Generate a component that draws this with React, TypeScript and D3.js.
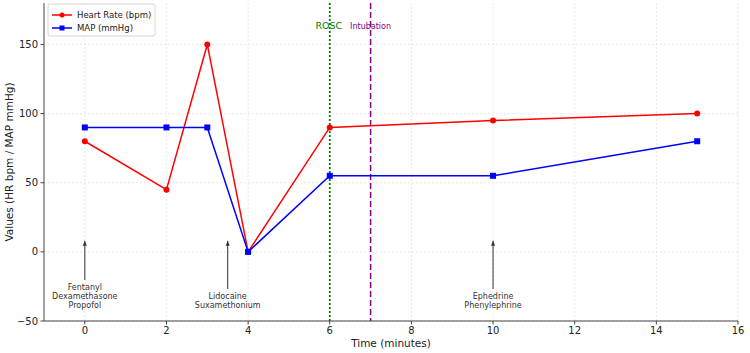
import React from "react";
import * as d3 from "d3";

const times = [0, 2, 3, 4, 6, 10, 15];
const heartRate = [80, 45, 150, 0, 90, 95, 100];
const map = [90, 90, 90, 0, 55, 55, 80];
const xTicks = [0, 2, 4, 6, 8, 10, 12, 14, 16];
const yTicks = [-50, 0, 50, 100, 150];
const annotations = [
  { x: 0, lines: ["Fentanyl", "Dexamethasone", "Propofol"] },
  { x: 3.5, lines: ["Lidocaine", "Suxamethonium"] },
  { x: 10, lines: ["Ephedrine", "Phenylephrine"] },
];
const events = [
  { x: 6, label: "ROSC" },
  { x: 7, label: "Intubation" },
];

const W = 750, H = 353;
const L = 44, R = 738, T = 3, B = 321;
const FONT = "DejaVu Sans, sans-serif";

export default function App() {
  const x = d3.scaleLinear().domain([-1, 16]).range([L, R]);
  const y = d3.scaleLinear().domain([-50, 180]).range([B, T]);
  const line = d3.line<[number, number]>().x(d => x(d[0])).y(d => y(d[1]));
  const hr = times.map((t, i) => [t, heartRate[i]] as [number, number]);
  const mp = times.map((t, i) => [t, map[i]] as [number, number]);

  return (
    <svg width={W} height={H} style={{ position: "absolute", left: 0, top: 0 }} fontFamily={FONT}>
      <defs>
        <marker id="arr" viewBox="0 0 10 10" refX="10" refY="5" markerWidth="5" markerHeight="5" orient="auto">
          <path d="M0,1 L10,5 L0,9 z" fill="#333" />
        </marker>
      </defs>
      <rect width={W} height={H} fill="white" />
      {/* grid */}
      {xTicks.map(t => (
        <line key={"gx" + t} x1={x(t)} x2={x(t)} y1={T} y2={B} stroke="#e2e2e2" strokeWidth={0.8} strokeDasharray="2,2" />
      ))}
      {yTicks.map(t => (
        <line key={"gy" + t} x1={L} x2={R} y1={y(t)} y2={y(t)} stroke="#e2e2e2" strokeWidth={0.8} strokeDasharray="2,2" />
      ))}
      {/* event lines */}
      <line x1={x(events[0].x)} x2={x(events[0].x)} y1={T} y2={B} stroke="green" strokeWidth={1.8} strokeDasharray="2,2" />
      <line x1={x(events[1].x)} x2={x(events[1].x)} y1={T} y2={B} stroke="purple" strokeWidth={1.5} strokeDasharray="6,3" />
      <text x={x(events[0].x) - 1} y={29} fill="green" fontSize={9.5} textAnchor="middle">{events[0].label}</text>
      <text x={x(events[1].x)} y={29} fill="purple" fontSize={8} textAnchor="middle">{events[1].label}</text>
      {/* series */}
      <path d={line(hr) || ""} fill="none" stroke="red" strokeWidth={1.5} />
      <path d={line(mp) || ""} fill="none" stroke="blue" strokeWidth={1.5} />
      {hr.map((d, i) => <circle key={"h" + i} cx={x(d[0])} cy={y(d[1])} r={3} fill="red" />)}
      {mp.map((d, i) => <rect key={"m" + i} x={x(d[0]) - 3} y={y(d[1]) - 3} width={6} height={6} fill="blue" />)}
      {/* annotations */}
      {annotations.map((a, i) => {
        const n = a.lines.length;
        const lh = 9;
        const lastY = 308;
        const firstY = lastY - (n - 1) * lh;
        return (
          <g key={"a" + i}>
            <line x1={x(a.x)} x2={x(a.x)} y1={firstY - 10} y2={y(8)} stroke="#333" strokeWidth={1} markerEnd="url(#arr)" />
            {a.lines.map((s, j) => (
              <text key={j} x={x(a.x)} y={firstY + j * lh} fontSize={8} fill="#333" textAnchor="middle">{s}</text>
            ))}
          </g>
        );
      })}
      {/* axes */}
      <line x1={L} x2={L} y1={T} y2={B} stroke="#444" strokeWidth={1} />
      <line x1={L} x2={R} y1={B} y2={B} stroke="#444" strokeWidth={1} />
      {xTicks.map(t => (
        <g key={"xt" + t}>
          <line x1={x(t)} x2={x(t)} y1={B} y2={B + 3.5} stroke="#444" />
          <text x={x(t)} y={B + 13} fontSize={10} textAnchor="middle" fill="#222">{t}</text>
        </g>
      ))}
      {yTicks.map(t => (
        <g key={"yt" + t}>
          <line x1={L - 3.5} x2={L} y1={y(t)} y2={y(t)} stroke="#444" />
          <text x={L - 6} y={y(t) + 3.5} fontSize={10} textAnchor="end" fill="#222">{t < 0 ? "\u2212" + Math.abs(t) : t}</text>
        </g>
      ))}
      <text x={(L + R) / 2} y={347} fontSize={10.5} textAnchor="middle" fill="#222">Time (minutes)</text>
      <text transform={`translate(13,${(T + B) / 2}) rotate(-90)`} fontSize={10.5} textAnchor="middle" fill="#222">Values (HR bpm / MAP mmHg)</text>
      {/* legend */}
      <g>
        <rect x={48} y={4} width={107} height={32} rx={2} fill="white" stroke="#ccc" strokeWidth={0.8} />
        <line x1={52} x2={72} y1={15} y2={15} stroke="red" strokeWidth={1.5} />
        <circle cx={62} cy={15} r={2.5} fill="red" />
        <text x={77} y={18} fontSize={8.5} fill="#222">Heart Rate (bpm)</text>
        <line x1={52} x2={72} y1={28} y2={28} stroke="blue" strokeWidth={1.5} />
        <rect x={59.5} y={25.5} width={5} height={5} fill="blue" />
        <text x={77} y={31} fontSize={8.5} fill="#222">MAP (mmHg)</text>
      </g>
    </svg>
  );
}
